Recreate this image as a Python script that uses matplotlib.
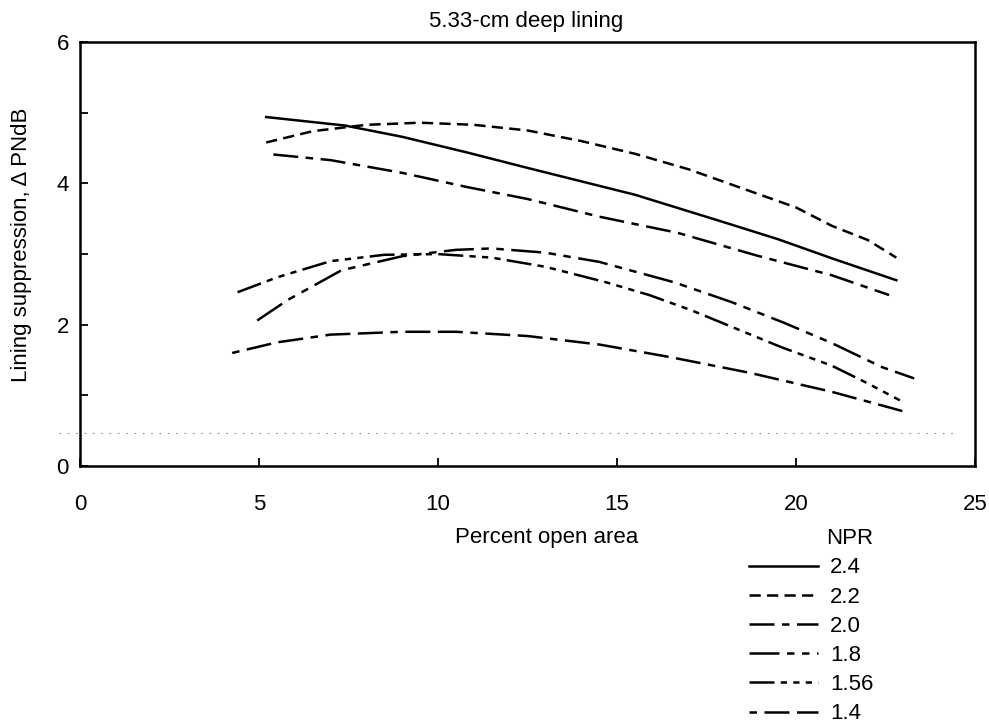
import matplotlib
matplotlib.use('Agg')
import matplotlib.pyplot as plt
from matplotlib.ticker import MultipleLocator, FuncFormatter

plt.rcParams['font.family'] = ['Liberation Sans', 'DejaVu Sans']

# NPR curves: percent open area vs suppression
x_24 = [5.2, 7.4, 9.0, 10.8, 12.5, 14.0, 15.5, 17.8, 19.5, 21.0, 22.8]
y_24 = [4.94, 4.82, 4.66, 4.44, 4.22, 4.03, 3.84, 3.48, 3.21, 2.94, 2.63]

x_22 = [5.2, 6.5, 8.0, 9.5, 11.0, 12.5, 14.0, 15.5, 17.0, 18.5, 20.0, 21.0, 22.0, 22.8]
y_22 = [4.58, 4.74, 4.83, 4.86, 4.83, 4.75, 4.60, 4.42, 4.20, 3.93, 3.66, 3.40, 3.20, 2.95]

x_20 = [5.4, 7.0, 9.0, 10.8, 12.5, 14.5, 16.7, 18.9, 21.0, 22.6]
y_20 = [4.41, 4.33, 4.15, 3.95, 3.78, 3.53, 3.30, 2.98, 2.70, 2.42]

x_18 = [4.95, 5.8, 7.3, 9.0, 10.5, 11.5, 13.0, 14.5, 16.6, 18.2, 19.7, 21.0, 22.4, 23.3]
y_18 = [2.06, 2.35, 2.77, 2.97, 3.06, 3.08, 3.02, 2.89, 2.60, 2.32, 2.02, 1.74, 1.40, 1.24]

x_156 = [4.4, 5.5, 7.0, 8.5, 10.0, 11.5, 13.0, 14.7, 15.9, 17.1, 18.3, 19.6, 21.0, 22.0, 22.9]
y_156 = [2.46, 2.67, 2.90, 2.99, 3.00, 2.95, 2.82, 2.60, 2.42, 2.20, 1.95, 1.68, 1.42, 1.17, 0.93]

x_14 = [4.25, 5.5, 7.0, 9.0, 10.5, 12.5, 14.5, 16.5, 18.7, 21.0, 23.1]
y_14 = [1.60, 1.75, 1.86, 1.90, 1.90, 1.84, 1.72, 1.54, 1.32, 1.05, 0.76]

npr_labels = ['2.4', '2.2', '2.0', '1.8', '1.56', '1.4']
scan_line_y = 0.47

fig = plt.figure(figsize=(9.89, 7.27), dpi=100)
ax = fig.add_axes([0.0809, 0.359, 0.905, 0.583])

lw = 1.8
ax.plot(x_24, y_24, color='black', lw=lw, label=npr_labels[0])
ax.plot(x_22, y_22, color='black', lw=lw, dashes=(4.5, 2.5), label=npr_labels[1])
ax.plot(x_20, y_20, color='black', lw=lw, dashes=(10, 3, 3, 3), label=npr_labels[2])
ax.plot(x_18, y_18, color='black', lw=lw, dashes=(12, 3, 3, 3, 3, 3), label=npr_labels[3])
ax.plot(x_156, y_156, color='black', lw=lw, dashes=(10, 2.5, 2.5, 2.5, 2.5, 2.5, 2.5, 2.5), label=npr_labels[4])
ax.plot(x_14, y_14, color='black', lw=lw, dashes=(3, 3, 10, 3, 10, 3), label=npr_labels[5])

# faint dotted fold mark across the scan
ax.plot([-0.6, 24.5], [scan_line_y, scan_line_y], color='0.55', lw=0.8,
        dashes=(1.5, 6), clip_on=False)

ax.set_xlim(0, 25)
ax.set_ylim(0, 6)
ax.xaxis.set_major_locator(MultipleLocator(5))
ax.yaxis.set_major_locator(MultipleLocator(1))
ax.yaxis.set_major_formatter(FuncFormatter(lambda v, p: '%d' % v if int(v) % 2 == 0 else ''))
ax.tick_params(direction='in', length=6, width=1.3, labelsize=16)
ax.tick_params(axis='x', pad=20)
ax.tick_params(axis='y', pad=8)
for s in ax.spines.values():
    s.set_linewidth(1.8)

fs = 16
fig.text(526 / 989, 1 - 22 / 727, '5.33-cm deep lining', ha='center', va='center', fontsize=fs)
fig.text(547 / 989, 1 - 538 / 727, 'Percent open area', ha='center', va='center', fontsize=fs)
fig.text(22 / 989, 1 - 245 / 727, 'Lining suppression, Δ PNdB', ha='center', va='center',
         rotation=90, fontsize=fs)

leg = ax.legend(title='NPR', loc='upper left', bbox_to_anchor=(738 / 989, 1 - 517 / 727),
                bbox_transform=fig.transFigure, frameon=False, fontsize=fs,
                title_fontsize=fs, handlelength=3.1, handletextpad=0.55,
                labelspacing=0.37, borderpad=0, alignment='right')

fig.savefig('out.png', dpi=100)
